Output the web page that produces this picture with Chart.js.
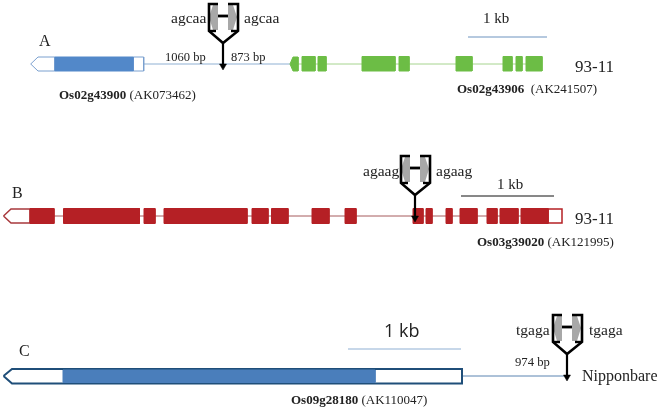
<!DOCTYPE html>
<html>
<head>
    <meta charset="UTF-8">
    <title>Gene structures</title>
    <script src="https://cdn.jsdelivr.net/npm/chart.js"></script>
    <style>
        html, body { margin: 0; padding: 0; background: #fff; }
        canvas { display: block; filter: blur(0.4px); }
    </style>
</head>
<body>
    <canvas id="genes" width="661" height="411"></canvas>

    <script>
        // exon positions along each row
        const geneACdsStart = [55];
        const geneACdsEnd = [133];
        const geneGreenStart = [302, 318, 362, 399, 456, 503, 516, 526];
        const geneGreenEnd = [315, 326, 395, 409, 472, 512, 522, 542];
        const geneBStart = [30, 63.5, 144, 164, 252, 271.5, 312, 345, 413, 426, 446, 460, 487, 500, 521];
        const geneBEnd = [54, 139.5, 155, 247, 268, 288, 329, 356, 423, 432, 452, 477, 497, 518, 548];
        const geneCCdsStart = [63];
        const geneCCdsEnd = [375];

        const xy = (pairs) => pairs.map(p => ({ x: p[0], y: p[1] }));
        const datasets = [];

        function line(pairs, color, width) {
            datasets.push({
                data: xy(pairs), showLine: true, fill: false, pointRadius: 0,
                borderColor: color, borderWidth: width, borderJoinStyle: 'miter', tension: 0
            });
        }

        function shape(pairs, fillColor, strokeColor, width) {
            datasets.push({
                data: xy(pairs.concat([pairs[0]])), showLine: true, fill: 'shape', pointRadius: 0,
                backgroundColor: fillColor, borderColor: strokeColor, borderWidth: width,
                borderJoinStyle: 'miter', tension: 0
            });
        }

        function box(x0, x1, y0, y1, fillColor, strokeColor, width) {
            shape([[x0, y0], [x1, y0], [x1, y1], [x0, y1]], fillColor, strokeColor, width);
        }

        function exons(starts, ends, y0, y1, color) {
            starts.forEach((s, i) => box(s, ends[i], y0, y1, color, color, 1));
        }

        // the insertion mark: grey wings, black brackets, arrow down to the gene
        function marker(x, top, tip) {
            const grey = '#a8a8a8';
            shape([[x - 5, top + 1], [x - 5, top + 26], [x - 10, top + 26], [x - 14, top + 13], [x - 10, top + 1]], grey, grey, 0);
            shape([[x + 5, top + 1], [x + 5, top + 26], [x + 10, top + 26], [x + 14, top + 13], [x + 10, top + 1]], grey, grey, 0);
            line([[x - 5, top], [x - 14, top], [x - 14, top + 27], [x, top + 39], [x + 15, top + 27], [x + 15, top], [x + 5, top]], '#000', 2.6);
            line([[x - 14, top + 27], [x - 7, top + 27]], '#000', 2.4);
            line([[x + 8, top + 27], [x + 15, top + 27]], '#000', 2.4);
            line([[x - 5, top + 12], [x + 5, top + 12]], '#000', 2.8);
            line([[x, top + 39], [x, tip - 3]], '#000', 2.2);
            shape([[x - 3.5, tip - 6], [x + 3.5, tip - 6], [x, tip]], '#000', '#000', 0.5);
        }

        // row A
        line([[144, 64], [290, 64]], '#8fb0d3', 1);
        line([[297, 64], [542, 64]], '#a6d48e', 1);
        shape([[30.7, 64], [38, 57], [55, 57], [55, 71], [38, 71]], '#fff', '#7ba0cf', 1);
        box(133, 143.7, 57, 71, '#fff', '#7ba0cf', 1);
        exons(geneACdsStart, geneACdsEnd, 57, 71, '#5288c9');
        shape([[290, 64], [293, 57], [298, 57], [298, 71], [293, 71]], '#6cbd45', '#6cbd45', 1);
        exons(geneGreenStart, geneGreenEnd, 56.5, 71, '#6cbd45');
        line([[468, 37], [547, 37]], '#6d93bf', 1);
        marker(223, 4, 70);

        // row B
        line([[54, 216], [562, 216]], '#a65a5c', 1);
        shape([[3.5, 216], [11, 209], [30, 209], [30, 223], [11, 223]], '#fff', '#a8383c', 1.5);
        box(548, 562, 209, 223, '#fff', '#b52025', 1.5);
        exons(geneBStart, geneBEnd, 208.5, 223.5, '#b52025');
        line([[461, 196], [554, 196]], '#111', 1);
        marker(415, 156, 222);

        // row C
        line([[462, 376], [568, 376]], '#5b84b1', 1);
        shape([[3.5, 376], [12, 369], [462, 369], [462, 383.5], [12, 383.5]], '#fff', '#1f4e79', 2);
        exons(geneCCdsStart, geneCCdsEnd, 370, 382.5, '#4a7ebb');
        line([[348, 349], [461, 349]], '#8fb0d3', 1.2);
        marker(567, 315, 381);

        datasets.forEach((d, i) => { d.order = -i; });

        const serif = '"Liberation Serif", serif';
        // text, x, baseline, size, bold prefix
        const labels = [
            ['agcaa', 171, 23, 15.5], ['agcaa', 244, 23, 15.5], ['A', 39, 46, 16],
            ['1060 bp', 165, 60.5, 12.5], ['873 bp', 231, 60.5, 12.5],
            ['1 kb', 483, 23, 15], ['93-11', 575, 72, 17],
            [' (AK073462)', 59, 99, 13, 'Os02g43900'], ['  (AK241507)', 457, 93, 13, 'Os02g43906'],
            ['B', 12, 198, 16], ['agaag', 363, 176, 15.5], ['agaag', 436, 176, 15.5],
            ['1 kb', 497, 189, 15], ['93-11', 575, 224, 17],
            [' (AK121995)', 477, 246, 13, 'Os03g39020'],
            ['C', 19, 356, 16], ['tgaga', 516, 335, 15.5], ['tgaga', 589, 335, 15.5],
            ['974 bp', 515, 366, 12.7], ['Nipponbare', 582, 381, 16],
            [' (AK110047)', 291, 404, 13, 'Os09g28180']
        ];

        const textPlugin = {
            id: 'geneText',
            afterDatasetsDraw(chart) {
                const { ctx, scales } = chart;
                ctx.save();
                ctx.fillStyle = '#222';
                ctx.textBaseline = 'alphabetic';
                labels.forEach(l => {
                    let x = scales.x.getPixelForValue(l[1]);
                    const y = scales.y.getPixelForValue(l[2]);
                    if (l[4]) {
                        ctx.font = 'bold ' + l[3] + 'px ' + serif;
                        ctx.fillText(l[4], x, y);
                        x += ctx.measureText(l[4]).width;
                    }
                    ctx.font = l[3] + 'px ' + serif;
                    ctx.fillText(l[0], x, y);
                });
                ctx.font = '18px "Open Sans", sans-serif';
                ctx.fillText('1 kb', scales.x.getPixelForValue(384), scales.y.getPixelForValue(337));
                ctx.restore();
            }
        };

        new Chart(document.getElementById('genes'), {
            type: 'scatter',
            data: { datasets: datasets },
            options: {
                responsive: false,
                animation: false,
                layout: { padding: 0 },
                plugins: { legend: { display: false }, tooltip: { enabled: false } },
                scales: {
                    x: { type: 'linear', display: false, min: 0, max: 661 },
                    y: { type: 'linear', display: false, min: 0, max: 411, reverse: true }
                },
                elements: { line: { capBezierPoints: false } }
            },
            plugins: [textPlugin]
        });
    </script>
</body>
</html>
